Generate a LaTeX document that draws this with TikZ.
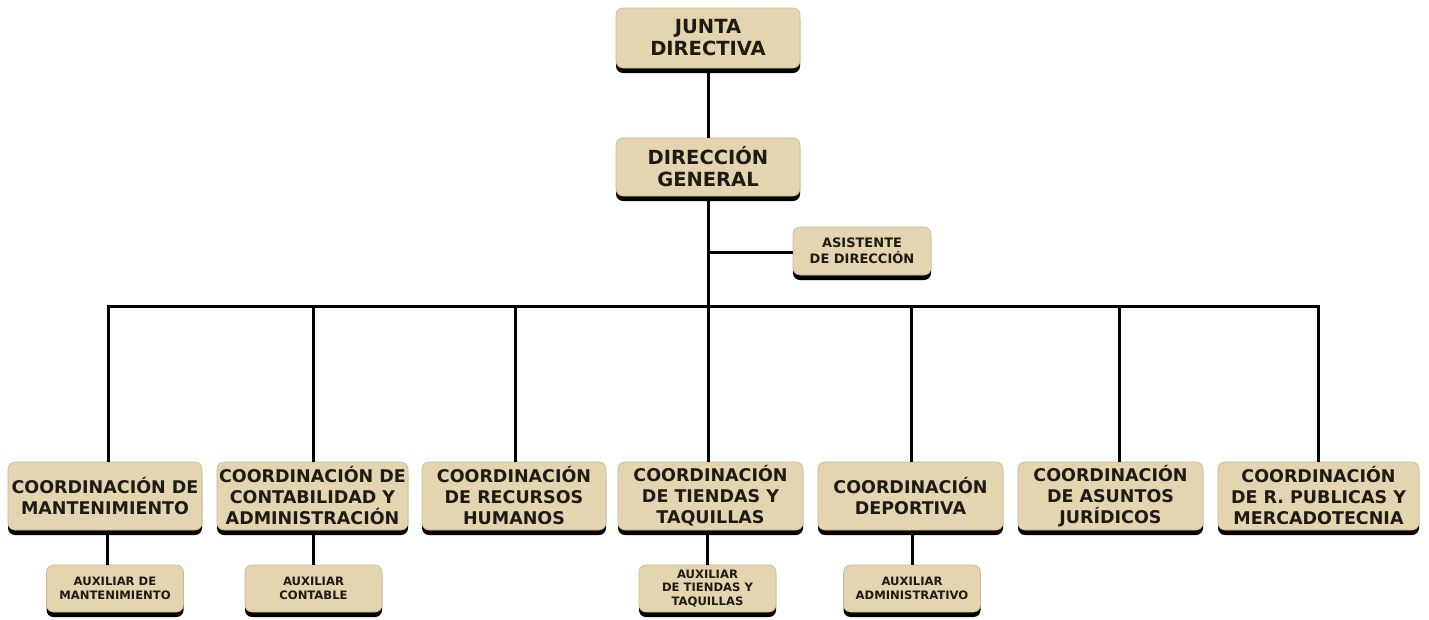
\documentclass[tikz,border=0pt]{standalone}
\usepackage{fontspec}
\setmainfont{DejaVu Sans}
\usetikzlibrary{shadows}
\definecolor{boxfill}{HTML}{E3D5B0}
\definecolor{boxedge}{HTML}{C9B990}
\definecolor{textcol}{HTML}{1E1A14}
\tikzset{
  box/.style={rectangle, rounded corners=7pt, fill=boxfill, draw=boxedge, line width=0.6pt,
    align=center, text=textcol, inner sep=0pt,
    drop shadow={shadow xshift=0pt, shadow yshift=-5pt, fill=black, opacity=1}},
  topbox/.style={box, minimum width=184pt, font=\bfseries\fontsize{19.5}{22}\selectfont},
  coordbox/.style={box, minimum height=68pt, font=\bfseries\fontsize{17.5}{21}\selectfont},
  auxbox/.style={box, minimum width=137pt, minimum height=47pt, font=\bfseries\fontsize{11.6}{13.5}\selectfont},
  link/.style={line width=3pt, draw=black}
}
\begin{document}
\begin{tikzpicture}[x=1pt, y=-1pt]
\useasboundingbox (0,0) rectangle (1429,619);
\coordinate (bus0) at (708,306);
\coordinate (v1) at (108,306);
\coordinate (v2) at (313,306);
\coordinate (v3) at (515,306);
\coordinate (v4) at (708,306);
\coordinate (v5) at (911,306);
\coordinate (v6) at (1119,306);
\coordinate (v7) at (1318,306);
\coordinate (asy) at (708,252);
\coordinate (u1) at (107,0);
\coordinate (u2) at (313,0);
\coordinate (u4) at (707,0);
\coordinate (u5) at (912,0);

\node[topbox, minimum height=60pt] (junta) at (708,38) {JUNTA\\DIRECTIVA};
\node[topbox, minimum height=58pt] (dir) at (708,167) {DIRECCIÓN\\GENERAL};
\node[box, minimum width=138pt, minimum height=48pt, font=\bfseries\fontsize{13}{16}\selectfont] (asis) at (862,251) {ASISTENTE\\DE DIRECCIÓN};

\node[coordbox, minimum width=194pt] (c1) at (105,496) {COORDINACIÓN DE\\MANTENIMIENTO};
\node[coordbox, minimum width=191pt] (c2) at (312.5,496) {COORDINACIÓN DE\\CONTABILIDAD Y\\ADMINISTRACIÓN};
\node[coordbox, minimum width=184pt] (c3) at (514,496) {COORDINACIÓN\\DE RECURSOS\\HUMANOS};
\node[coordbox, minimum width=185pt] (c4) at (710.5,496) {COORDINACIÓN\\DE TIENDAS Y\\TAQUILLAS};
\node[coordbox, minimum width=185pt] (c5) at (910.5,496) {COORDINACIÓN\\DEPORTIVA};
\node[coordbox, minimum width=185pt] (c6) at (1110.5,496) {COORDINACIÓN\\DE ASUNTOS\\JURÍDICOS};
\node[coordbox, minimum width=201pt] (c7) at (1318.5,496) {COORDINACIÓN\\DE R. PUBLICAS Y\\MERCADOTECNIA};

\node[auxbox] (a1) at (115,588.5) {AUXILIAR DE\\MANTENIMIENTO};
\node[auxbox] (a2) at (313.5,588.5) {AUXILIAR\\CONTABLE};
\node[auxbox] (a4) at (707.5,588.5) {AUXILIAR\\DE TIENDAS Y\\TAQUILLAS};
\node[auxbox] (a5) at (912,588.5) {AUXILIAR\\ADMINISTRATIVO};

\draw[link] (junta.south) ++(0,5) -- (dir.north);
\draw[link] (dir.south) ++(0,5) -- (bus0);
\draw[link] (asy) -- (asis.west |- asy);
\draw[link, line cap=rect] (v1) -- (v7);
\draw[link] (v1) -- (v1 |- c1.north);
\draw[link] (v2) -- (v2 |- c2.north);
\draw[link] (v3) -- (v3 |- c3.north);
\draw[link] (v4) -- (v4 |- c4.north);
\draw[link] (v5) -- (v5 |- c5.north);
\draw[link] (v6) -- (v6 |- c6.north);
\draw[link] (v7) -- (v7 |- c7.north);
\draw[link] ([yshift=-5pt]u1 |- c1.south) -- (u1 |- a1.north);
\draw[link] ([yshift=-5pt]u2 |- c2.south) -- (u2 |- a2.north);
\draw[link] ([yshift=-5pt]u4 |- c4.south) -- (u4 |- a4.north);
\draw[link] ([yshift=-5pt]u5 |- c5.south) -- (u5 |- a5.north);
\end{tikzpicture}
\end{document}
